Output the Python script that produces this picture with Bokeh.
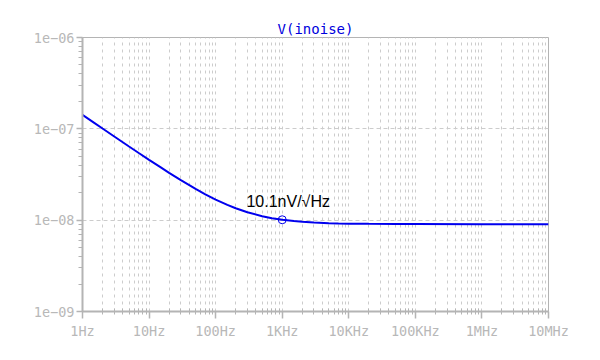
from bokeh.plotting import figure
from bokeh.models import FixedTicker, Range1d
from bokeh.embed import file_html
from bokeh.resources import INLINE
from bokeh.core.properties import value

# Data (frequency in Hz, noise density in V/sqrt(Hz))
freq = [1, 1.5, 2, 3, 5, 7, 10, 15, 20, 30, 50, 70, 100, 150, 200, 300, 500, 700,
        1e3, 1.5e3, 2e3, 3e3, 5e3, 7e3, 1e4, 2e4, 5e4, 1e5, 1e6, 1e7]
noise_nv = [142, 116.3, 100.8, 82.5, 64.1, 54.4, 45.8, 37.8, 33.0, 27.4, 22.0, 19.2,
            16.8, 14.7, 13.5, 12.2, 11.06, 10.5, 10.1, 9.77, 9.59, 9.41, 9.27, 9.21,
            9.16, 9.11, 9.07, 9.06, 9.05, 9.05]
noise = [v * 1e-9 for v in noise_nv]

marker_f = [1000]
marker_v = [10.1e-9]
marker_label = ["10.1nV/\u221aHz"]

x_ticks = [1, 10, 100, 1e3, 1e4, 1e5, 1e6, 1e7]
x_labels = ["1Hz", "10Hz", "100Hz", "1KHz", "10KHz", "100KHz", "1MHz", "10MHz"]
y_ticks = [1e-9, 1e-8, 1e-7, 1e-6]
y_labels = ["1e\u221209", "1e\u221208", "1e\u221207", "1e\u221206"]

grey = "#b4b4b4"
grid = "#cccccc"
mono = "DejaVu Sans Mono"

p = figure(width=584, height=344, x_axis_type="log", y_axis_type="log",
           output_backend="svg", toolbar_location=None,
           x_range=Range1d(1, 1e7), y_range=Range1d(1e-9, 1e-6),
           min_border_left=82, min_border_right=36, min_border_top=37,
           min_border_bottom=33, title="V(inoise)")
p.title.align = "center"
p.title.text_color = "#0000dd"
p.title.text_font = mono
p.title.text_font_size = "14px"
p.title.text_font_style = "normal"
p.title.offset = 0
p.title.standoff = 2

p.outline_line_color = grey
p.outline_line_width = 1
p.background_fill_color = "white"
p.border_fill_color = "white"

p.xaxis.ticker = FixedTicker(ticks=x_ticks, minor_ticks=[m * d for d in x_ticks[:-1] for m in range(2, 10)])
p.xaxis.major_label_overrides = {t: l for t, l in zip(x_ticks, x_labels)}
p.yaxis.ticker = FixedTicker(ticks=y_ticks, minor_ticks=[m * d for d in y_ticks[:-1] for m in range(2, 10)])
p.yaxis.major_label_overrides = {t: l for t, l in zip(y_ticks, y_labels)}

for ax in (p.xaxis[0], p.yaxis[0]):
    ax.axis_line_color = grey
    ax.axis_line_width = 2
    ax.major_tick_line_color = grey
    ax.minor_tick_line_color = grey
    ax.major_tick_line_width = 1.5
    ax.minor_tick_line_width = 1
    ax.major_label_text_font = mono
    ax.major_label_text_font_size = "13.5px"
    ax.major_label_text_color = "#b8b8b8"

p.xaxis.major_tick_out = 7
p.xaxis.major_tick_in = 0
p.xaxis.minor_tick_out = 3
p.xaxis.minor_tick_in = 3
p.xaxis.major_label_standoff = 4
p.yaxis.major_tick_out = 6
p.yaxis.major_tick_in = 0
p.yaxis.minor_tick_out = 4
p.yaxis.minor_tick_in = 0
p.yaxis.major_label_standoff = 2

p.xgrid.grid_line_color = grid
p.xgrid.grid_line_dash = "3 4"
p.xgrid.minor_grid_line_color = grid
p.xgrid.minor_grid_line_dash = "3 4"
p.ygrid.grid_line_color = grid
p.ygrid.grid_line_dash = "4 3"

p.line(freq, noise, line_color="#0000ee", line_width=2)
p.scatter(marker_f, marker_v, size=8, fill_color=None, line_color="#0000ee", line_width=1)
p.text(marker_f, marker_v, text=marker_label, text_font=value("Liberation Sans"),
       text_font_size="16px", text_color="black", text_align="center",
       text_baseline="middle", x_offset=6, y_offset=-18)

open("out.html", "w").write(file_html(p, INLINE))
